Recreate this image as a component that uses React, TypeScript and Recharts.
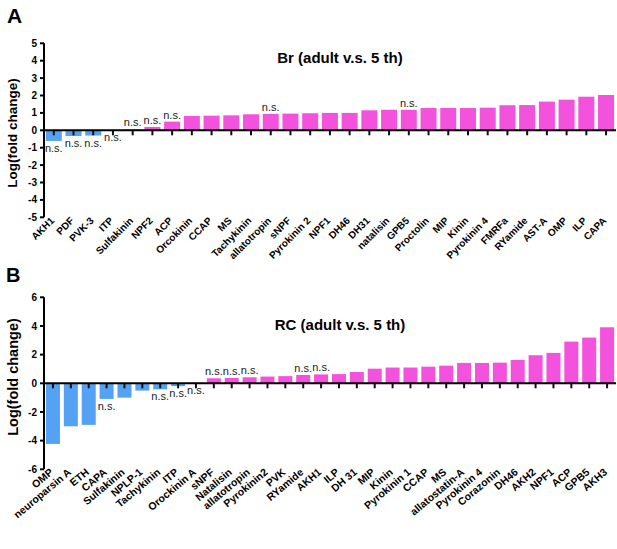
import { BarChart, Bar, XAxis, YAxis, Cell, ReferenceLine } from "recharts";

// Panel A: Br (adult v.s. 5 th)
const brNames = [
  "AKH1", "PDF", "PVK-3", "ITP", "Sulfakinin", "NPF2", "ACP", "Orcokinin",
  "CCAP", "MS", "Tachykinin", "allatotropin", "sNPF", "Pyrokinin 2", "NPF1",
  "DH46", "DH31", "natalisin", "GPB5", "Proctolin", "MIP", "Kinin",
  "Pyrokinin 4", "FMRFa", "RYamide", "AST-A", "OMP", "ILP", "CAPA",
];
const brValues = [
  -0.61, -0.33, -0.3, -0.01, 0.05, 0.19, 0.5, 0.82, 0.84, 0.86, 0.92, 0.94,
  0.96, 0.98, 1.0, 1.0, 1.15, 1.18, 1.18, 1.28, 1.28, 1.28, 1.3, 1.44, 1.45,
  1.65, 1.76, 1.93, 2.03,
];
// "n.s." marks, written above or below the bar
const brNsAbove = ["Sulfakinin", "NPF2", "ACP", "allatotropin", "GPB5"];
const brNsBelow = ["AKH1", "PDF", "PVK-3", "ITP"];
const brTicks = [-5, -4, -3, -2, -1, 0, 1, 2, 3, 4, 5];

// Panel B: RC (adult v.s. 5 th)
const rcNames = [
  "OMP", "neuroparsin A", "ETH", "CAPA", "Sulfakinin", "NPLP-1", "Tachykinin",
  "ITP", "Orockinin A", "sNPF", "Natalisin", "allatotropin", "Pyrokinin2",
  "PVK", "RYamide", "AKH1", "ILP", "DH 31", "MIP", "Kinin", "Pyrokinin 1",
  "CCAP", "MS", "allatostatin-A", "Pyrokinin 4", "Corazonin", "DH46", "AKH2",
  "NPF1", "ACP", "GPB5", "AKH3",
];
const rcValues = [
  -4.23, -3.0, -2.9, -1.09, -1.0, -0.51, -0.42, -0.2, 0.05, 0.35, 0.37, 0.42,
  0.47, 0.5, 0.58, 0.62, 0.64, 0.79, 1.02, 1.1, 1.1, 1.16, 1.23, 1.42, 1.42,
  1.44, 1.63, 1.96, 2.12, 2.91, 3.19, 3.91,
];
const rcNsAbove = ["sNPF", "Natalisin", "allatotropin", "RYamide", "AKH1"];
const rcNsBelow = ["CAPA", "Tachykinin", "ITP", "Orockinin A"];
const rcTicks = [-6, -4, -2, 0, 2, 4, 6];

const BLUE = "#55a2f5";
const PINK = "#f352dc";
const FONT = "Arial, 'Liberation Sans', sans-serif";

type Row = { name: string; value: number; ns: "" | "above" | "below" };

const makeRows = (names: string[], values: number[], above: string[], below: string[]): Row[] =>
  names.map((name, i) => ({
    name,
    value: values[i],
    ns: above.includes(name) ? "above" : below.includes(name) ? "below" : "",
  }));

const brData = makeRows(brNames, brValues, brNsAbove, brNsBelow);
const rcData = makeRows(rcNames, rcValues, rcNsAbove, rcNsBelow);

// bar + the little tick under the zero line + "n.s." mark
// (recharts gives y = scale(value), so y + height is always the zero line)
const BarShape = (props: any) => {
  const { x, y, width, height, fill, payload } = props;
  const base = y + height;
  const top = Math.min(y, base);
  const bottom = Math.max(y, base);
  const cx = x + width / 2;
  return (
    <g>
      <rect x={x} y={top} width={width} height={bottom - top} fill={fill} />
      <line x1={cx} x2={cx} y1={base} y2={base + 5} stroke="#111" strokeWidth={2} />
      {payload.ns && (
        <text
          x={cx}
          y={payload.ns === "above" ? top - 3 : bottom + 11}
          textAnchor="middle"
          fontSize={11}
          fontFamily={FONT}
          fill="#222"
        >
          n.s.
        </text>
      )}
    </g>
  );
};

const NameTick = (props: any) => {
  const { x, y, payload, angle, size } = props;
  return (
    <g transform={`translate(${x + 1},${y + 4})`}>
      <text
        transform={`rotate(${angle})`}
        textAnchor="end"
        fontSize={size}
        fontWeight="bold"
        fontFamily={FONT}
        fill="#000"
      >
        {payload.value}
      </text>
    </g>
  );
};

type PanelProps = {
  data: Row[];
  ticks: number[];
  height: number;
  top: number;
  xAxisHeight: number;
  gap: string;
  angle: number;
  labelSize: number;
};

const Panel = ({ data, ticks, height, top, xAxisHeight, gap, angle, labelSize }: PanelProps) => (
  <BarChart
    width={617}
    height={height}
    data={data}
    margin={{ top, right: 1, left: 0, bottom: 0 }}
    barCategoryGap={gap}
  >
    <XAxis
      dataKey="name"
      interval={0}
      axisLine={false}
      tickLine={false}
      tickSize={0}
      tickMargin={0}
      height={xAxisHeight}
      tick={<NameTick angle={angle} size={labelSize} />}
    />
    <YAxis
      width={44}
      domain={[ticks[0], ticks[ticks.length - 1]]}
      ticks={ticks}
      interval={0}
      axisLine={{ stroke: "#000", strokeWidth: 2 }}
      tickLine={{ stroke: "#000", strokeWidth: 2 }}
      tickSize={4}
      tickMargin={3}
      tick={{ fontSize: 10, fontWeight: "bold", fill: "#000", fontFamily: FONT }}
    />
    <Bar dataKey="value" isAnimationActive={false} shape={<BarShape />}>
      {data.map((d, i) => (
        <Cell key={i} fill={d.value < 0 ? BLUE : PINK} />
      ))}
    </Bar>
    <ReferenceLine y={0} stroke="#000" strokeWidth={2} />
  </BarChart>
);

export default function App() {
  return (
    <div
      style={{
        position: "absolute",
        left: 0,
        top: 0,
        width: 617,
        height: 549,
        background: "#fff",
        fontFamily: FONT,
      }}
    >
      <div style={{ position: "absolute", left: 0, top: 0 }}>
        <Panel
          data={brData}
          ticks={brTicks}
          height={268}
          top={43.3}
          xAxisHeight={50.7}
          gap="9%"
          angle={-45}
          labelSize={10}
        />
      </div>
      <div style={{ position: "absolute", left: 0, top: 268 }}>
        <Panel
          data={rcData}
          ticks={rcTicks}
          height={281}
          top={29.3}
          xAxisHeight={79.7}
          gap="11%"
          angle={-40}
          labelSize={10.5}
        />
      </div>
      <svg
        width={617}
        height={549}
        style={{ position: "absolute", left: 0, top: 0, pointerEvents: "none" }}
        fontFamily={FONT}
        fontWeight="bold"
      >
        <text x={7} y={23} fontSize={21}>A</text>
        <text x={6} y={282} fontSize={20}>B</text>
        <text x={340} y={63} fontSize={15} textAnchor="middle">Br (adult v.s. 5 th)</text>
        <text x={340} y={330} fontSize={15} textAnchor="middle">RC (adult v.s. 5 th)</text>
        <text transform="translate(17,133) rotate(-90)" fontSize={13.5} textAnchor="middle">
          Log(fold change)
        </text>
        <text transform="translate(17.5,377) rotate(-90)" fontSize={14.5} textAnchor="middle">
          Log(fold change)
        </text>
      </svg>
    </div>
  );
}
